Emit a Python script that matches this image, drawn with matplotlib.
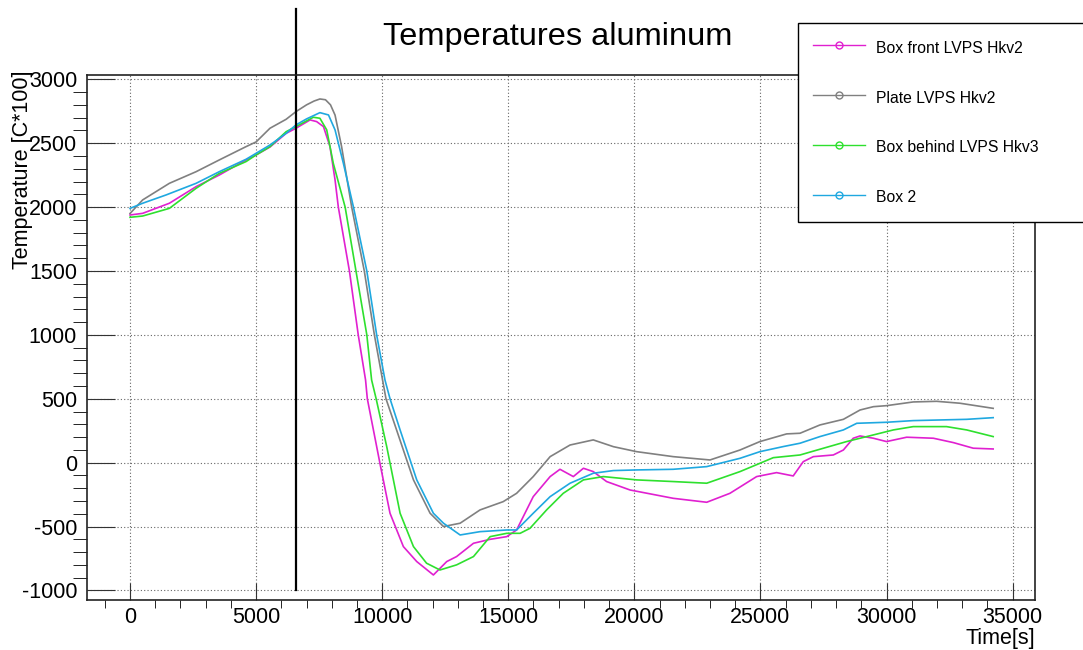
import matplotlib
matplotlib.use('Agg')
import matplotlib.pyplot as plt
from matplotlib.lines import Line2D
from matplotlib.ticker import MultipleLocator

# temperature logs
t_box_front = [0, 500, 1560, 2620, 3540, 4600, 5000, 5550, 6190, 6580, 7140, 7400, 7670, 7930,
               8130, 8260, 8700, 9050, 9340, 9410, 9910, 10310, 10840, 11370, 12030, 12560,
               12950, 13620, 14280, 14940, 15330, 15990, 16660, 17050, 17580, 17980, 18370,
               18900, 19830, 21540, 22870, 23790, 24850, 25640, 26300, 26700, 27100, 27890,
               28290, 28680, 28950, 29480, 30000, 30800, 31860, 32650, 33440, 34230]
box_front = [1938, 1951, 2030, 2160, 2251, 2369, 2408, 2470, 2577, 2617, 2682, 2669, 2630, 2473,
             2213, 2000, 1500, 1000, 647, 500, -5, -396, -657, -774, -879, -774,
             -735, -631, -600, -579, -527, -266, -109, -52, -109, -44, -70,
             -148, -214, -279, -310, -240, -109, -78, -104, 8, 47, 60,
             99, 191, 209, 191, 165, 199, 191, 157, 113, 107]

t_plate = [0, 500, 1560, 2620, 3540, 4600, 5000, 5550, 6190, 6580, 7000, 7300, 7530, 7750,
           7950, 8130, 8390, 8790, 9290, 9690, 10150, 10570, 11240, 11900, 12430, 13090,
           13880, 14800, 15330, 15990, 16660, 17450, 18370, 19170, 20090, 21540, 23000,
           24190, 24980, 26040, 26570, 27360, 28290, 28950, 29480, 30000, 31060, 31990,
           32910, 34230]
plate = [1950, 2056, 2186, 2277, 2369, 2473, 2510, 2617, 2687, 2747, 2800, 2830, 2846, 2840,
         2800, 2720, 2473, 2000, 1500, 1000, 500, 256, -135, -396, -500, -474,
         -370, -305, -240, -109, 47, 138, 178, 125, 86, 47, 21,
         99, 165, 225, 230, 295, 339, 412, 438, 446, 475, 480,
         465, 425]

t_box_behind = [0, 500, 1560, 2620, 3540, 4600, 5000, 5550, 6190, 6580, 7270, 7530, 7800, 8060,
                8530, 8960, 9390, 9580, 9760, 10180, 10710, 11240, 11760, 12290, 12950, 13620,
                14280, 14940, 15470, 15860, 16520, 17180, 17980, 18770, 20090, 21540, 22870,
                24190, 24980, 25510, 26570, 27360, 28420, 29480, 30270, 31060, 32380, 33180,
                34230]
box_behind = [1920, 1930, 1990, 2147, 2264, 2356, 2408, 2473, 2590, 2630, 2703, 2695, 2604, 2343,
              2000, 1500, 1000, 647, 500, 125, -396, -657, -787, -840, -800, -735,
              -579, -553, -553, -514, -370, -240, -135, -109, -135, -148, -161,
              -70, -5, 39, 60, 105, 165, 217, 256, 282, 282, 256,
              204]

t_box2 = [0, 500, 1430, 2620, 3540, 4600, 5000, 5550, 6190, 6580, 7000, 7530, 7870, 8130,
          8460, 8860, 9390, 9780, 10110, 10310, 10710, 11370, 12030, 12430, 13090, 13880,
          14940, 15330, 15990, 16660, 17450, 18370, 19170, 20090, 21540, 22870, 24190,
          24980, 25910, 26570, 27360, 28290, 28820, 30000, 31060, 32120, 33180, 34230]
box2 = [1990, 2030, 2095, 2186, 2277, 2374, 2421, 2486, 2577, 2643, 2690, 2739, 2721, 2604,
        2343, 2000, 1500, 1000, 647, 500, 256, -135, -396, -474, -566, -540,
        -527, -527, -396, -266, -161, -83, -62, -57, -52, -31, 34,
        86, 126, 152, 204, 256, 308, 316, 329, 334, 339, 352]

labels = ['Box front LVPS Hkv2', 'Plate LVPS Hkv2', 'Box behind LVPS Hkv3', 'Box 2']
colors = ['#e020d0', '#808080', '#2ee02e', '#1fa8e0']
marker_time = 6580

plt.rcParams['font.family'] = ['Liberation Sans', 'DejaVu Sans']
plt.rcParams['axes.unicode_minus'] = False

fig = plt.figure(figsize=(10.83, 6.5), dpi=100)
ax = fig.add_axes([0.0801, 0.0769, 0.8756, 0.8072])

series = [(t_box_front, box_front), (t_plate, plate), (t_box_behind, box_behind), (t_box2, box2)]
for (t, y), c in zip(series, colors):
    ax.plot(t, y, color=c, lw=1.2)

# vertical marker line, runs up past the frame
ax.plot([marker_time, marker_time], [-1000, 3550], color='black', lw=1.6, clip_on=False)

ax.set_xlim(-1717, 35890)
ax.set_ylim(-1075, 3031)
ax.xaxis.set_major_locator(MultipleLocator(5000))
ax.xaxis.set_minor_locator(MultipleLocator(1000))
ax.yaxis.set_major_locator(MultipleLocator(500))
ax.yaxis.set_minor_locator(MultipleLocator(100))

ax.tick_params(axis='both', direction='in', labelsize=15.5, color='#333333')
ax.tick_params(axis='x', which='major', length=12, pad=5)
ax.tick_params(axis='x', which='minor', length=6)
ax.tick_params(axis='y', which='major', length=20, pad=7)
ax.tick_params(axis='y', which='minor', length=10)
ax.grid(True, which='major', ls=(0, (1, 2)), color='#666666', lw=0.8)

for s in ax.spines.values():
    s.set_color('#222222')
    s.set_linewidth(1.2)

ax.set_xlabel('Time[s]', fontsize=15.5, loc='right')
ax.xaxis.set_label_coords(1.0, -0.053)
ax.set_ylabel('Temperature [C*100]', fontsize=15.5, loc='top')
ax.yaxis.set_label_coords(-0.057, 1.01)

ax.set_title('Temperatures aluminum', fontsize=23.4, x=0.4968, pad=22)

handles = [Line2D([], [], color=c, lw=1.0, marker='o', ms=5, mfc='none', mew=1.0) for c in colors]
leg = ax.legend(handles, labels, loc='upper left',
                bbox_to_anchor=(798 / 1083, 0, 300 / 1083, 1 - 22.7 / 650),
                bbox_transform=fig.transFigure, mode='expand', borderaxespad=0,
                fontsize=11.3, handlelength=3.3, handleheight=1.6, handletextpad=0.75,
                borderpad=0.95, labelspacing=1.89, fancybox=False, shadow=False, framealpha=1)
leg.get_frame().set_edgecolor('black')
leg.get_frame().set_linewidth(1.0)

fig.savefig('out.png', dpi=100)
